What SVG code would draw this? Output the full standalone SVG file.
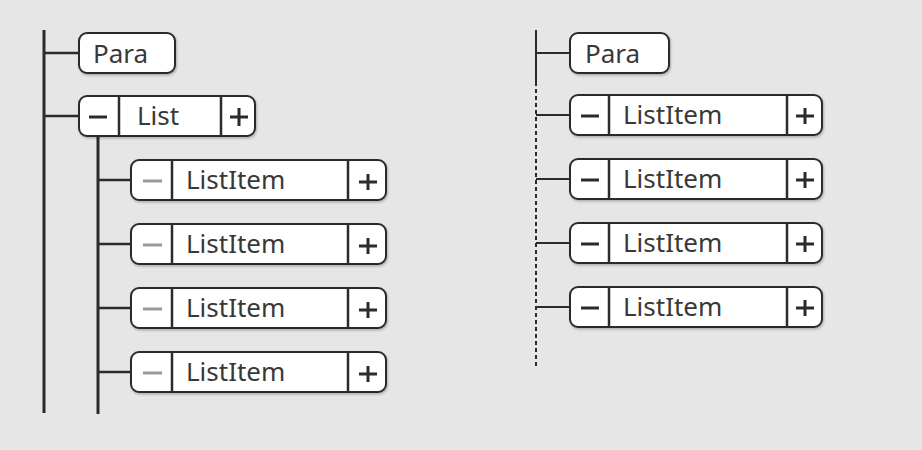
<svg xmlns="http://www.w3.org/2000/svg" width="922" height="450" viewBox="0 0 922 450">
<defs>
<filter id="sh" x="-5%" y="-20%" width="110%" height="150%">
  <feDropShadow dx="1" dy="1.5" stdDeviation="1" flood-color="#000" flood-opacity="0.25"/>
</filter>
</defs>
<style>
.bg{fill:#e6e6e6}
.box{fill:#ffffff;stroke:#2b2b2b;stroke-width:2;filter:url(#sh)}
.sep{stroke:#2b2b2b;stroke-width:2.5}
.ln{stroke:#2b2b2b;stroke-width:3;fill:none}
.cn{stroke:#2b2b2b;stroke-width:2.5;fill:none}
.ln2{stroke:#2b2b2b;stroke-width:2;fill:none}
.dash{stroke:#2b2b2b;stroke-width:2;fill:none;stroke-dasharray:4 3}
.t{font-family:"Noto Sans","DejaVu Sans",sans-serif;font-size:26px;fill:#383838}
.sg{stroke:#2b2b2b;stroke-width:3;fill:none}
.sgl{stroke:#9a9a9a;stroke-width:3;fill:none}
</style>
<rect class="bg" x="0" y="0" width="922" height="450"/>

<g id="connectors">
  <line class="ln" x1="44" y1="30" x2="44" y2="413"/>
  <line class="cn" x1="44" y1="53" x2="79" y2="53"/>
  <line class="cn" x1="44" y1="116" x2="79" y2="116"/>
  <line class="ln" x1="98" y1="136" x2="98" y2="414"/>
  <line class="cn" x1="98" y1="180" x2="131" y2="180"/>
  <line class="cn" x1="98" y1="244" x2="131" y2="244"/>
  <line class="cn" x1="98" y1="308" x2="131" y2="308"/>
  <line class="cn" x1="98" y1="372" x2="131" y2="372"/>

  <line class="ln2" x1="536" y1="30" x2="536" y2="82"/>
  <line class="dash" x1="536" y1="82" x2="536" y2="368"/>
  <line class="ln2" x1="536" y1="53" x2="570" y2="53"/>
  <line class="ln2" x1="536" y1="115" x2="570" y2="115"/>
  <line class="ln2" x1="536" y1="179" x2="570" y2="179"/>
  <line class="ln2" x1="536" y1="243" x2="570" y2="243"/>
  <line class="ln2" x1="536" y1="307" x2="570" y2="307"/>
</g>

<g id="para-left">
  <rect class="box" x="79" y="33" width="96" height="40" rx="8"/>
  <text class="t" x="93" y="63">Para</text>
</g>

<g id="list">
  <rect class="box" x="79" y="96" width="176" height="40" rx="8"/>
  <line class="sep" x1="119" y1="96" x2="119" y2="136"/>
  <line class="sep" x1="221" y1="96" x2="221" y2="136"/>
  <line class="sg" x1="89" y1="117" x2="107" y2="117"/>
  <text class="t" x="137" y="125">List</text>
  <path class="sg" d="M230 117H248M239 108V126"/>
</g>

<g id="listitem-l1">
  <rect class="box" x="131" y="160" width="255" height="40" rx="8"/>
  <line class="sep" x1="172" y1="160" x2="172" y2="200"/>
  <line class="sep" x1="348" y1="160" x2="348" y2="200"/>
  <line class="sgl" x1="143" y1="181" x2="162" y2="181"/>
  <text class="t" x="186" y="189">ListItem</text>
  <path class="sg" d="M359 182H377M368 174V190"/>
</g>
<g id="listitem-l2">
  <rect class="box" x="131" y="224" width="255" height="40" rx="8"/>
  <line class="sep" x1="172" y1="224" x2="172" y2="264"/>
  <line class="sep" x1="348" y1="224" x2="348" y2="264"/>
  <line class="sgl" x1="143" y1="245" x2="162" y2="245"/>
  <text class="t" x="186" y="253">ListItem</text>
  <path class="sg" d="M359 246H377M368 238V254"/>
</g>
<g id="listitem-l3">
  <rect class="box" x="131" y="288" width="255" height="40" rx="8"/>
  <line class="sep" x1="172" y1="288" x2="172" y2="328"/>
  <line class="sep" x1="348" y1="288" x2="348" y2="328"/>
  <line class="sgl" x1="143" y1="309" x2="162" y2="309"/>
  <text class="t" x="186" y="317">ListItem</text>
  <path class="sg" d="M359 310H377M368 302V318"/>
</g>
<g id="listitem-l4">
  <rect class="box" x="131" y="352" width="255" height="40" rx="8"/>
  <line class="sep" x1="172" y1="352" x2="172" y2="392"/>
  <line class="sep" x1="348" y1="352" x2="348" y2="392"/>
  <line class="sgl" x1="143" y1="373" x2="162" y2="373"/>
  <text class="t" x="186" y="381">ListItem</text>
  <path class="sg" d="M359 374H377M368 366V382"/>
</g>

<g id="para-right">
  <rect class="box" x="570" y="33" width="99" height="40" rx="8"/>
  <text class="t" x="585" y="63">Para</text>
</g>

<g id="listitem-r1">
  <rect class="box" x="570" y="95" width="252" height="40" rx="8"/>
  <line class="sep" x1="609" y1="95" x2="609" y2="135"/>
  <line class="sep" x1="787" y1="95" x2="787" y2="135"/>
  <line class="sg" x1="581" y1="116" x2="599" y2="116"/>
  <text class="t" x="623" y="124">ListItem</text>
  <path class="sg" d="M796 116H814M805 108V124"/>
</g>
<g id="listitem-r2">
  <rect class="box" x="570" y="159" width="252" height="40" rx="8"/>
  <line class="sep" x1="609" y1="159" x2="609" y2="199"/>
  <line class="sep" x1="787" y1="159" x2="787" y2="199"/>
  <line class="sg" x1="581" y1="180" x2="599" y2="180"/>
  <text class="t" x="623" y="188">ListItem</text>
  <path class="sg" d="M796 180H814M805 172V188"/>
</g>
<g id="listitem-r3">
  <rect class="box" x="570" y="223" width="252" height="40" rx="8"/>
  <line class="sep" x1="609" y1="223" x2="609" y2="263"/>
  <line class="sep" x1="787" y1="223" x2="787" y2="263"/>
  <line class="sg" x1="581" y1="244" x2="599" y2="244"/>
  <text class="t" x="623" y="252">ListItem</text>
  <path class="sg" d="M796 244H814M805 236V252"/>
</g>
<g id="listitem-r4">
  <rect class="box" x="570" y="287" width="252" height="40" rx="8"/>
  <line class="sep" x1="609" y1="287" x2="609" y2="327"/>
  <line class="sep" x1="787" y1="287" x2="787" y2="327"/>
  <line class="sg" x1="581" y1="308" x2="599" y2="308"/>
  <text class="t" x="623" y="316">ListItem</text>
  <path class="sg" d="M796 308H814M805 300V316"/>
</g>
</svg>
